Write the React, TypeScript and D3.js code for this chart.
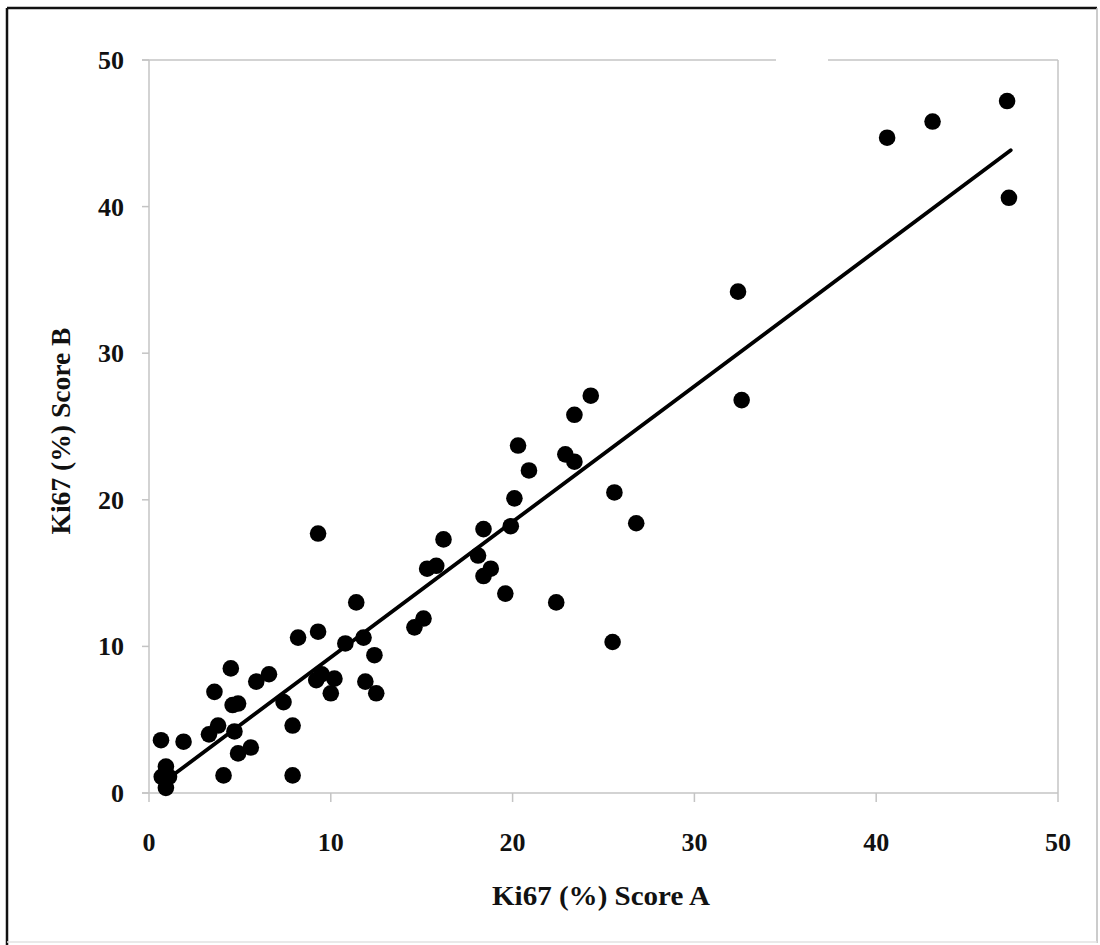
import React from "react";
import * as d3 from "d3";

const scoreA = [47.2, 43.1, 40.6, 47.3, 32.4, 32.6, 24.3, 23.4, 20.3, 20.9, 22.9, 23.4, 25.6, 26.8, 20.1, 19.9, 18.4, 16.2, 15.8, 15.3, 18.1, 18.8, 18.4, 19.6, 22.4, 25.5, 15.1, 14.6, 11.4, 8.2, 9.3, 10.8, 11.8, 12.4, 9.2, 9.5, 10.2, 10.0, 11.9, 12.5, 4.5, 5.9, 6.6, 3.6, 4.6, 4.9, 7.4, 7.9, 3.8, 3.3, 4.7, 0.66, 1.9, 4.9, 5.6, 4.1, 7.9, 0.93, 0.7, 1.1, 0.93, 9.3];
const scoreB = [47.2, 45.8, 44.7, 40.6, 34.2, 26.8, 27.1, 25.8, 23.7, 22.0, 23.1, 22.6, 20.5, 18.4, 20.1, 18.2, 18.0, 17.3, 15.5, 15.3, 16.2, 15.3, 14.8, 13.6, 13.0, 10.3, 11.9, 11.3, 13.0, 10.6, 11.0, 10.2, 10.6, 9.4, 7.7, 8.1, 7.8, 6.8, 7.6, 6.8, 8.5, 7.6, 8.1, 6.9, 6.0, 6.1, 6.2, 4.6, 4.6, 4.0, 4.2, 3.6, 3.5, 2.7, 3.1, 1.2, 1.2, 1.8, 1.1, 1.1, 0.35, 17.7];
const ticks = [0, 10, 20, 30, 40, 50];
const trendRange = [0.9, 47.4];
const trendSlope = 0.925;
const trendIntercept = 0.0;

const FONT = "'Liberation Serif', 'DejaVu Serif', serif";

export default function App() {
  const x = d3.scaleLinear().domain([0, 50]).range([149, 1058]);
  const y = d3.scaleLinear().domain([0, 50]).range([793, 60]);
  const pts = scoreA.map((a, i) => [a, scoreB[i]]);
  const trend = trendRange.map((v) => [v, trendSlope * v + trendIntercept]);
  const line = d3.line<number[]>().x((d) => x(d[0])).y((d) => y(d[1]));
  const grey = "#c4c4c4";
  return (
    <svg width={1100} height={945} style={{ position: "absolute", left: 0, top: 0, background: "#fff" }}>
      {/* outer frame */}
      <line x1={7} y1={8} x2={1097} y2={8} stroke="#111" strokeWidth={2.5} />
      <line x1={7} y1={8} x2={7} y2={945} stroke="#111" strokeWidth={2.5} />
      <line x1={1097} y1={8} x2={1097} y2={943} stroke="#bbb" strokeWidth={1.5} />
      <line x1={7} y1={942} x2={1097} y2={942} stroke="#e2e2e2" strokeWidth={1.5} />
      {/* plot border */}
      <line x1={x(0) - 7} y1={y(50)} x2={776} y2={y(50)} stroke={grey} strokeWidth={1.5} />
      <line x1={828} y1={y(50)} x2={x(50)} y2={y(50)} stroke={grey} strokeWidth={1.5} />
      <line x1={x(50)} y1={y(50)} x2={x(50)} y2={y(0)} stroke={grey} strokeWidth={1.5} />
      <line x1={x(0)} y1={y(50)} x2={x(0)} y2={y(0)} stroke={grey} strokeWidth={1.5} />
      <line x1={x(0) - 7} y1={y(0)} x2={x(50)} y2={y(0)} stroke={grey} strokeWidth={1.5} />
      {ticks.map((t) => (
        <g key={"t" + t}>
          <line x1={x(0) - 7} y1={y(t)} x2={x(0)} y2={y(t)} stroke={grey} strokeWidth={1.5} />
          <line x1={x(t)} y1={y(0)} x2={x(t)} y2={y(0) + 9} stroke={grey} strokeWidth={1.5} />
          <text x={124} y={y(t) + 9} textAnchor="end" fontFamily={FONT} fontWeight="bold" fontSize={26} fill="#111">{t}</text>
          <text x={x(t)} y={851} textAnchor="middle" fontFamily={FONT} fontWeight="bold" fontSize={26} fill="#111">{t}</text>
        </g>
      ))}
      <path d={line(trend) || ""} fill="none" stroke="#000" strokeWidth={3.8} strokeLinecap="round" />
      {pts.map((p, i) => (
        <circle key={i} cx={x(p[0])} cy={y(p[1])} r={8.3} fill="#000" />
      ))}
      <text x={601} y={905} textAnchor="middle" fontFamily={FONT} fontWeight="bold" fontSize={28} fill="#111" textLength={218} lengthAdjust="spacingAndGlyphs">Ki67 (%) Score A</text>
      <text transform="translate(70,431) rotate(-90)" textAnchor="middle" fontFamily={FONT} fontWeight="bold" fontSize={28} fill="#111" textLength={207} lengthAdjust="spacingAndGlyphs">Ki67 (%) Score B</text>
    </svg>
  );
}
